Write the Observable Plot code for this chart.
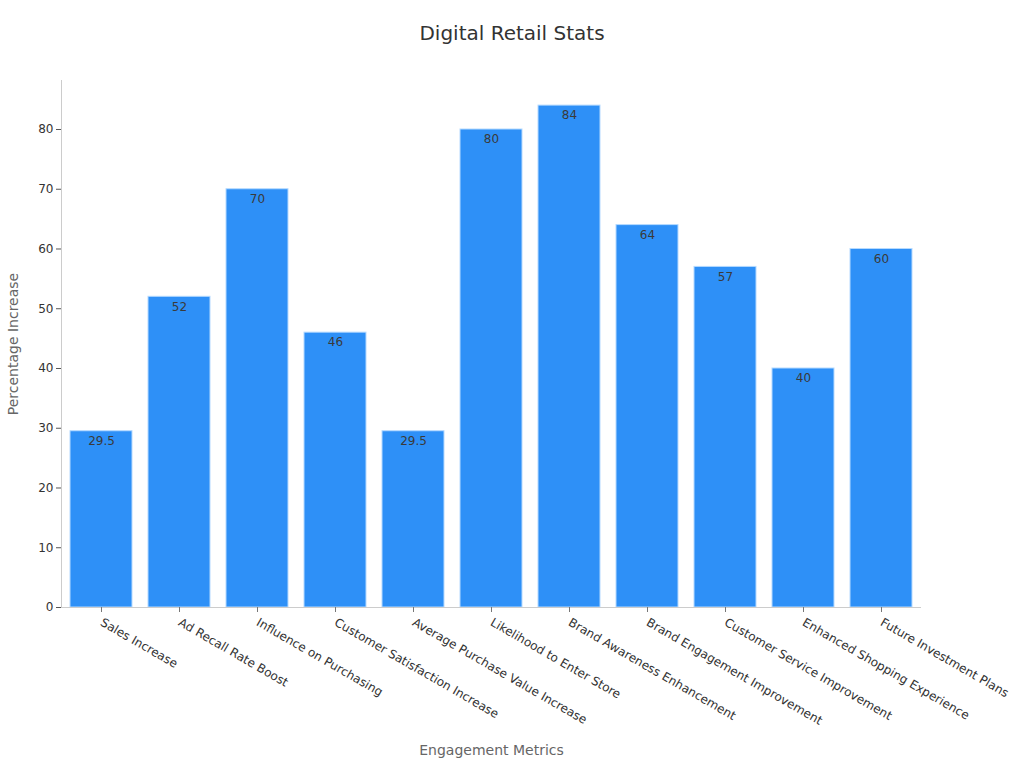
<!DOCTYPE html>
<html>
<head>
<meta charset="utf-8">
<script src="https://cdn.jsdelivr.net/npm/d3@7"></script>
<script src="https://cdn.jsdelivr.net/npm/@observablehq/plot@0.6"></script>
<style>
  body { margin: 0; background: #fff; font-family: "DejaVu Sans", sans-serif; }
  #title { height: 60px; line-height: 66px; text-align: center; font-size: 20px; color: #333; }
</style>
</head>
<body>
<div id="title">Digital Retail Stats</div>
<div id="chart"></div>
<script>
const categories = [
  "Sales Increase",
  "Ad Recall Rate Boost",
  "Influence on Purchasing",
  "Customer Satisfaction Increase",
  "Average Purchase Value Increase",
  "Likelihood to Enter Store",
  "Brand Awareness Enhancement",
  "Brand Engagement Improvement",
  "Customer Service Improvement",
  "Enhanced Shopping Experience",
  "Future Investment Plans"
];
const values = [29.5, 52, 70, 46, 29.5, 80, 84, 64, 57, 40, 60];
const yTicks = [0, 10, 20, 30, 40, 50, 60, 70, 80];

const data = categories.map((c, i) => ({category: c, value: values[i]}));

const chart = Plot.plot({
  width: 1024,
  height: 708,
  marginTop: 20,
  marginBottom: 161,
  marginLeft: 61,
  marginRight: 103,
  style: {fontFamily: "DejaVu Sans, sans-serif", fontSize: "12px", color: "#333", background: "#fff"},
  x: {domain: categories, paddingInner: 0.2, paddingOuter: 0.1, label: null},
  y: {domain: [0, 88.2], label: null},
  marks: [
    Plot.barY(data, {x: "category", y: "value", fill: "#2E90F7", stroke: "#B5DAFF", strokeWidth: 1}),
    Plot.text(data, {x: "category", y: "value", text: d => String(d.value), dy: 10, fill: "#3a3a3a", fontSize: 12}),
    Plot.frame({anchor: "left", stroke: "#ccc"}),
    Plot.ruleY([0], {stroke: "#ccc"}),
    Plot.axisY({ticks: yTicks, tickSize: 5, tickPadding: 3, stroke: "#555", fill: "#333", fontSize: 12, label: null}),
    Plot.axisX({tickSize: 5, tickPadding: 9, stroke: "#777", fill: "#333", fontSize: 12, tickRotate: 30, textAnchor: "start", label: null}),
    Plot.text(["Percentage Increase"], {frameAnchor: "left", textAnchor: "middle", dx: -48, rotate: -90, fill: "#666", fontSize: 14}),
    Plot.text(["Engagement Metrics"], {frameAnchor: "bottom", dy: 147, fill: "#666", fontSize: 14})
  ]
});
document.getElementById("chart").appendChild(chart);
</script>
</body>
</html>
